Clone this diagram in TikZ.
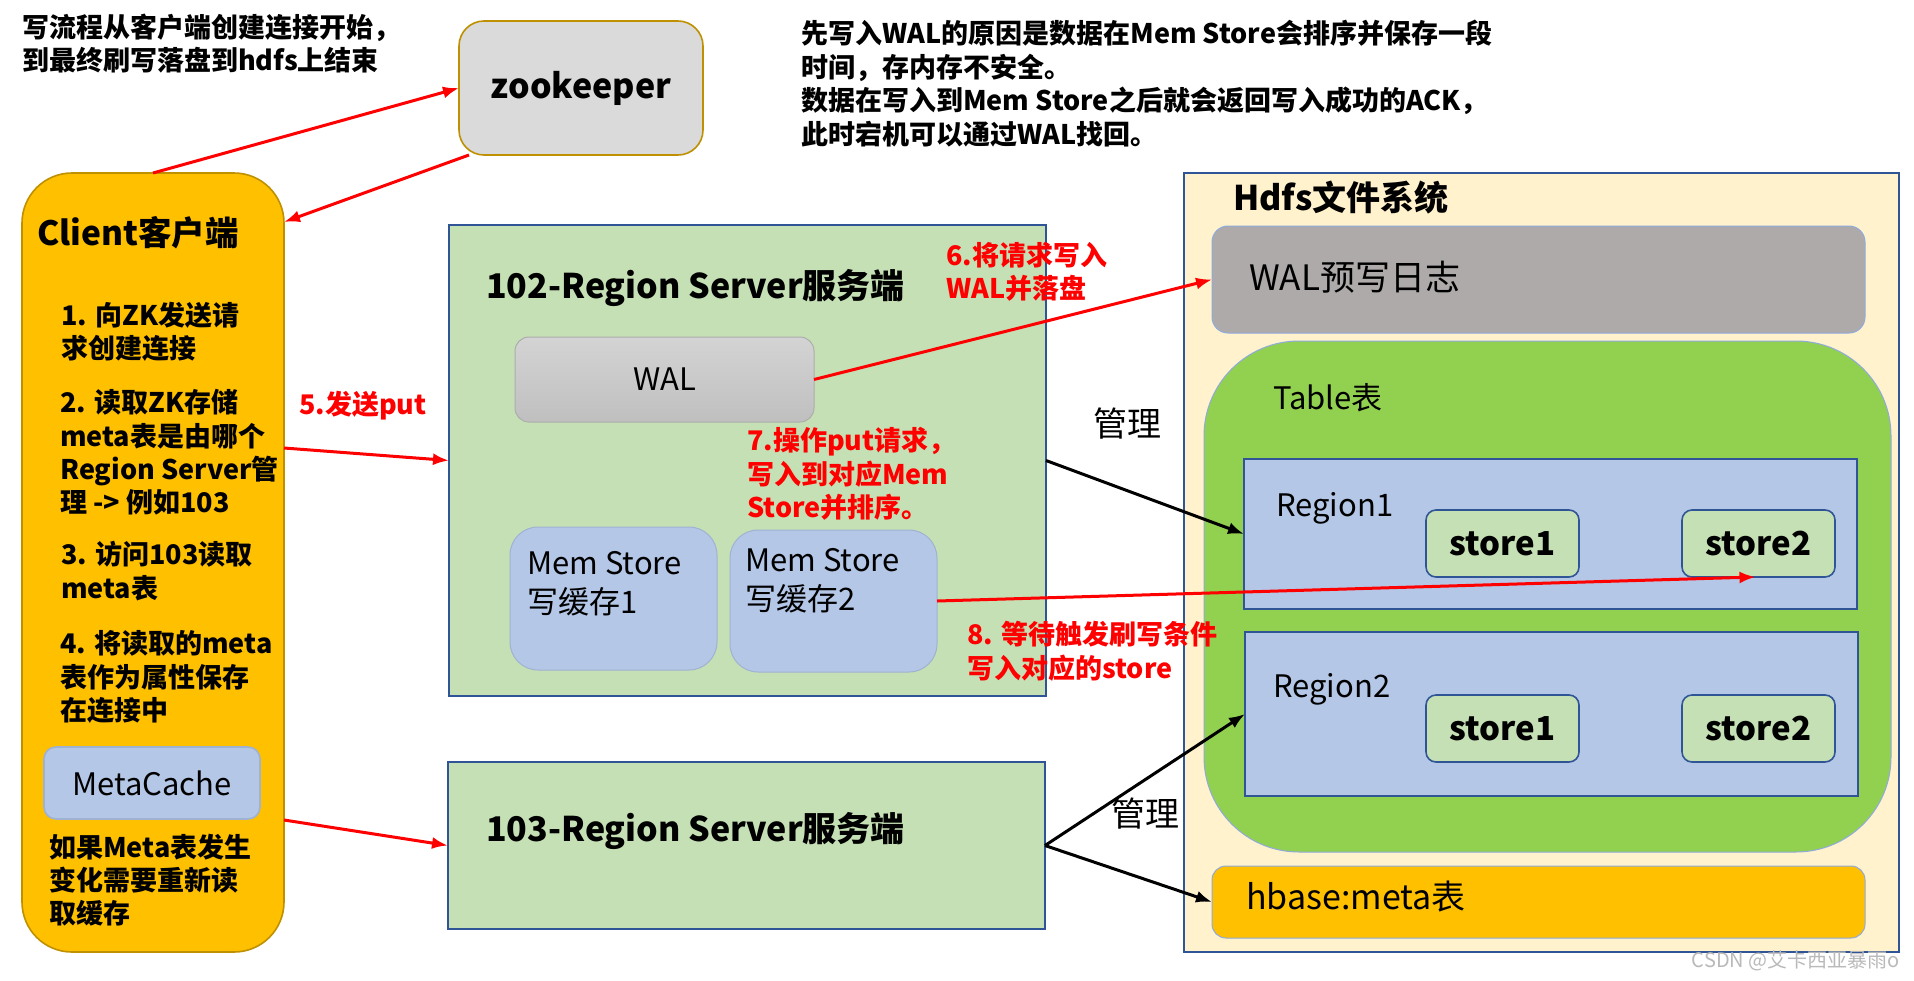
\documentclass[tikz,border=0pt]{standalone}
\usepackage{fontspec}
\setmainfont{Noto Sans CJK SC}
\usetikzlibrary{arrows.meta,calc}
\definecolor{gold}{RGB}{191,144,0}
\definecolor{clientfill}{RGB}{255,192,0}
\definecolor{zkfill}{RGB}{218,218,218}
\definecolor{srvfill}{RGB}{197,224,180}
\definecolor{darkblue}{RGB}{47,85,151}
\definecolor{lightblue}{RGB}{180,199,231}
\definecolor{paleblue}{RGB}{143,170,220}
\definecolor{softborder}{RGB}{160,178,210}
\definecolor{hdfsfill}{RGB}{255,242,204}
\definecolor{walfill}{RGB}{174,170,170}
\definecolor{tablefill}{RGB}{146,208,80}
\definecolor{wmgray}{RGB}{185,185,185}
\begin{document}
\begin{tikzpicture}[x=1pt,y=1pt,
  box/.style={anchor=north west, inner sep=0pt, outer sep=0pt, line width=1.6pt},
  ln/.style={anchor=base west, inner sep=0pt, yshift=#1},
  bigb/.style={font=\bfseries\fontsize{34}{40}\selectfont},
  reg/.style={font=\fontsize{31}{37}\selectfont},
  itm/.style={font=\bfseries\fontsize{27}{33}\selectfont},
  redt/.style={text=red, font=\bfseries\fontsize{27}{33}\selectfont},
  redarr/.style={draw=red, line width=3pt, -{Latex[length=16pt,width=12pt]}},
  blkarr/.style={draw=black, line width=3pt, -{Latex[length=16pt,width=12pt]}},
  storeb/.style={box, fill=srvfill, draw=darkblue, rounded corners=10pt, minimum width=153pt, minimum height=67pt, font=\bfseries\fontsize{33}{39}\selectfont}
]
\useasboundingbox (0,0) rectangle (1914,-980);
\fill[white] (0,0) rectangle (1914,-980);

% top-left note
\node[ln=-10pt, itm] (n1a) at (22,-27) {写流程从客户端创建连接开始，};
\node[ln=-10pt, itm] (n1b) at (22,-60) {到最终刷写落盘到hdfs上结束};

% top-right note
\node[ln=-10pt, itm] (n2a) at (801,-33) {先写入WAL的原因是数据在Mem Store会排序并保存一段};
\node[ln=-10pt, itm] (n2b) at (801,-67) {时间，存内存不安全。};
\node[ln=-10pt, itm] (n2c) at (801,-100) {数据在写入到Mem Store之后就会返回写入成功的ACK，};
\node[ln=-10pt, itm] (n2d) at (801,-134) {此时宕机可以通过WAL找回。};

% zookeeper
\node[box, fill=zkfill, draw=gold, rounded corners=25pt, minimum width=244pt, minimum height=134pt, bigb] (zk) at (459,-21) {zookeeper};

% client
\node[box, fill=clientfill, draw=gold, rounded corners=50pt, minimum width=262pt, minimum height=779pt] (client) at (22,-173) {};
\node[ln=-12pt, font=\bfseries\fontsize{33.5}{40}\selectfont] (ct) at (37,-233) {Client客户端};
\node[ln=-10pt, itm] (c1a) at (61,-315) {1. 向ZK发送请};
\node[ln=-10pt, itm] (c1b) at (61,-348) {求创建连接};
\node[ln=-10pt, itm] (c2a) at (60,-402) {2. 读取ZK存储};
\node[ln=-10pt, itm] (c2b) at (60,-436) {meta表是由哪个};
\node[ln=-10pt, itm] (c2c) at (60,-469) {Region Server管};
\node[ln=-10pt, itm] (c2d) at (60,-502) {理 -> 例如103};
\node[ln=-10pt, itm] (c3a) at (61,-554) {3. 访问103读取};
\node[ln=-10pt, itm] (c3b) at (61,-588) {meta表};
\node[ln=-10pt, itm] (c4a) at (60,-643) {4. 将读取的meta};
\node[ln=-10pt, itm] (c4b) at (60,-677) {表作为属性保存};
\node[ln=-10pt, itm] (c4c) at (60,-710) {在连接中};
\node[box, fill=lightblue, draw=softborder, rounded corners=12pt, minimum width=216pt, minimum height=72pt, reg] (mc) at (44,-747) {MetaCache};
\node[ln=-10pt, itm] (c5a) at (49,-847) {如果Meta表发生};
\node[ln=-10pt, itm] (c5b) at (49,-880) {变化需要重新读};
\node[ln=-10pt, itm] (c5c) at (49,-913) {取缓存};

% 102 region server
\node[box, fill=srvfill, draw=darkblue, minimum width=597pt, minimum height=471pt] (s102) at (449,-225) {};
\node[ln=-12pt, bigb] (s102t) at (486,-286) {102-Region Server服务端};
\node[box, top color=black!17, bottom color=black!25, draw=black!32, line width=1pt, rounded corners=14pt, minimum width=299pt, minimum height=85pt, reg] (wal) at (515,-337) {WAL};
\node[box, fill=lightblue, draw=softborder, line width=1pt, rounded corners=28pt, minimum width=207pt, minimum height=143pt] (mem1) at (510,-527) {};
\node[ln=-11pt, reg] (mem1a) at (527,-563) {Mem Store};
\node[ln=-11pt, reg] (mem1b) at (527,-602) {写缓存1};
\node[box, fill=lightblue, draw=softborder, line width=1pt, rounded corners=28pt, minimum width=207pt, minimum height=142pt] (mem2) at (730,-530) {};
\node[ln=-11pt, reg] (mem2a) at (745,-560) {Mem Store};
\node[ln=-11pt, reg] (mem2b) at (745,-599) {写缓存2};

% 103 region server
\node[box, fill=srvfill, draw=darkblue, minimum width=597pt, minimum height=167pt] (s103) at (448,-762) {};
\node[ln=-12pt, bigb] (s103t) at (486,-829) {103-Region Server服务端};

% hdfs
\node[box, fill=hdfsfill, draw=darkblue, minimum width=715pt, minimum height=779pt] (hdfs) at (1184,-173) {};
\node[ln=-12pt, bigb] (hdfst) at (1233,-198) {Hdfs文件系统};
\node[box, fill=walfill, draw=paleblue, line width=1pt, rounded corners=16pt, minimum width=653pt, minimum height=107pt] (wallog) at (1212,-226) {};
\node[ln=-12pt, font=\fontsize{35}{40}\selectfont] (wallogt) at (1249,-278) {WAL预写日志};
\node[box, fill=tablefill, draw=paleblue, line width=1pt, rounded corners=95pt, minimum width=687pt, minimum height=511pt] (table) at (1204,-341) {};
\node[ln=-11pt, reg] (tablet) at (1273,-398) {Table表};
\node[box, fill=lightblue, draw=darkblue, minimum width=613pt, minimum height=150pt] (region1) at (1244,-459) {};
\node[ln=-11pt, reg] (r1t) at (1276,-505) {Region1};
\node[storeb] (r1s1) at (1426,-510) {store1};
\node[storeb] (r1s2) at (1682,-510) {store2};
\node[box, fill=lightblue, draw=darkblue, minimum width=613pt, minimum height=164pt] (region2) at (1245,-632) {};
\node[ln=-11pt, reg] (r2t) at (1273,-686) {Region2};
\node[storeb] (r2s1) at (1426,-695) {store1};
\node[storeb] (r2s2) at (1682,-695) {store2};
\node[box, fill=clientfill, draw=paleblue, line width=1pt, rounded corners=14pt, minimum width=653pt, minimum height=72pt] (meta) at (1212,-866) {};
\node[ln=-12pt, font=\fontsize{34}{40}\selectfont] (metat) at (1246,-897) {hbase:meta表};

% labels
\node[ln=-10pt, redt] (l5) at (299,-404) {5.发送put};
\node[ln=-10pt, redt] (l6a) at (946,-255) {6.将请求写入};
\node[ln=-10pt, redt] (l6b) at (946,-288) {WAL并落盘};
\node[ln=-10pt, redt] (l7a) at (747,-440) {7.操作put请求，};
\node[ln=-10pt, redt] (l7b) at (747,-474) {写入到对应Mem};
\node[ln=-10pt, redt] (l7c) at (747,-507) {Store并排序。};
\node[ln=-10pt, redt] (l8a) at (967,-634) {8. 等待触发刷写条件};
\node[ln=-10pt, redt] (l8b) at (967,-668) {写入对应的store};
\node[anchor=center, inner sep=0pt, font=\fontsize{34}{40}\selectfont] (gl1) at (1127,-424) {管理};
\node[anchor=center, inner sep=0pt, font=\fontsize{34}{40}\selectfont] (gl2) at (1145,-814) {管理};

% arrows
\draw[redarr] (client.north) -- (zk.west);
\draw[redarr] ([xshift=10pt]zk.south west) -- ([yshift=-49pt]client.north east);
\draw[redarr] ([yshift=-275pt]client.north east) -- (s102.west);
\draw[redarr] ([yshift=-647pt]client.north east) -- (s103.west);
\draw[redarr] (wal.east) -- (wallog.west);
\draw[redarr] (mem2.east) -- ([xshift=-3pt]r1s2.south);
\draw[blkarr] (s102.east) -- (region1.west);
\draw[blkarr] (s103.east) -- (region2.west);
\draw[blkarr] (s103.east) -- (meta.west);

% watermark
\node[anchor=east, inner sep=0pt, text=wmgray, font=\fontsize{20}{24}\selectfont] (wm) at (1900,-961) {CSDN @艾卡西亚暴雨o};
\end{tikzpicture}
\end{document}
